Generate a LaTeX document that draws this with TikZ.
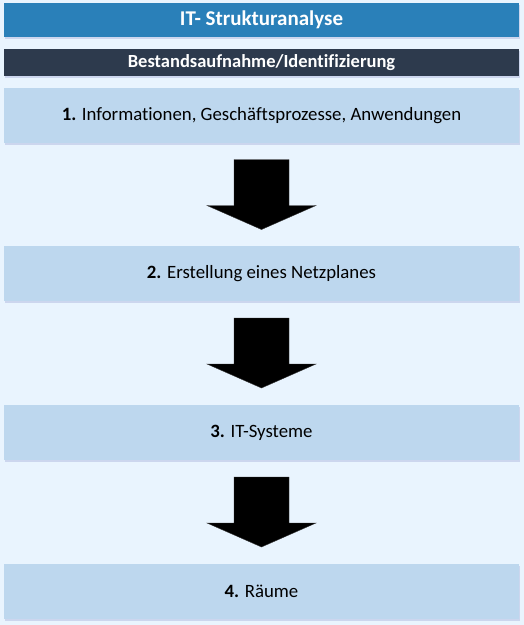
\documentclass[tikz,border=0pt]{standalone}
\usepackage{fontspec}
\setmainfont{Carlito}[Ligatures=NoCommon]
\usepackage{tikz}
\usetikzlibrary{positioning, calc, shadows}
\definecolor{bgblue}{HTML}{E9F4FE}
\definecolor{titleblue}{HTML}{2A80B9}
\definecolor{darkslate}{HTML}{2D3A4D}
\definecolor{stepblue}{HTML}{BDD7EE}
\tikzstyle{bar} = [minimum width=515pt, inner sep=0pt, outer sep=0pt,
    align=center, drop shadow={shadow xshift=1pt, shadow yshift=-2pt,
    opacity=0.12, fill=blue!50!black}]
\tikzstyle{titlebar} = [bar, fill=titleblue, text=white, minimum height=34pt,
    font=\fontsize{21}{24}\selectfont\bfseries]
\tikzstyle{subbar} = [bar, fill=darkslate, text=white, minimum height=27pt,
    font=\fontsize{18.5}{21}\selectfont\bfseries]
\tikzstyle{stepbox} = [bar, fill=stepblue, minimum height=55pt,
    font=\fontsize{18.8}{22}\selectfont]
\tikzstyle{blockarr} = [fill=black, draw=black!80, line width=0.4pt]
\newcommand{\downblock}[1]{%
  \filldraw[blockarr] ($(#1)+(-27.5pt,35pt)$) -- ++(55pt,0) -- ++(0,-46pt)
    -- ++(27pt,0) -- ++(-54.5pt,-24pt) -- ++(-54.5pt,24pt) -- ++(27pt,0) -- cycle;}

\begin{document}
\begin{tikzpicture}[x=1pt, y=1pt]
  % background
  \fill[bgblue] (0,0) rectangle (524,-625);
  \useasboundingbox (0,0) rectangle (524,-625);

  % header
  \node[titlebar] (title) at (261.5,-20) {IT- Strukturanalyse};
  \node[subbar, below=12pt of title] (sub) {Bestandsaufnahme/Identifizierung};

  % steps
  \node[stepbox, below=12pt of sub] (s1) {\textbf{1.} Informationen, Geschäftsprozesse, Anwendungen};
  \node[stepbox, below=103pt of s1] (s2) {\textbf{2.} Erstellung eines Netzplanes};
  \node[stepbox, below=104pt of s2] (s3) {\textbf{3.} IT-Systeme};
  \node[stepbox, below=104pt of s3] (s4) {\textbf{4.} Räume};

  % arrows
  \coordinate (m1) at ($(s1.south)!0.5!(s2.north)$);
  \coordinate (m2) at ($(s2.south)!0.5!(s3.north)$);
  \coordinate (m3) at ($(s3.south)!0.5!(s4.north)$);
  \downblock{m1}
  \downblock{m2}
  \downblock{m3}
\end{tikzpicture}
\end{document}
